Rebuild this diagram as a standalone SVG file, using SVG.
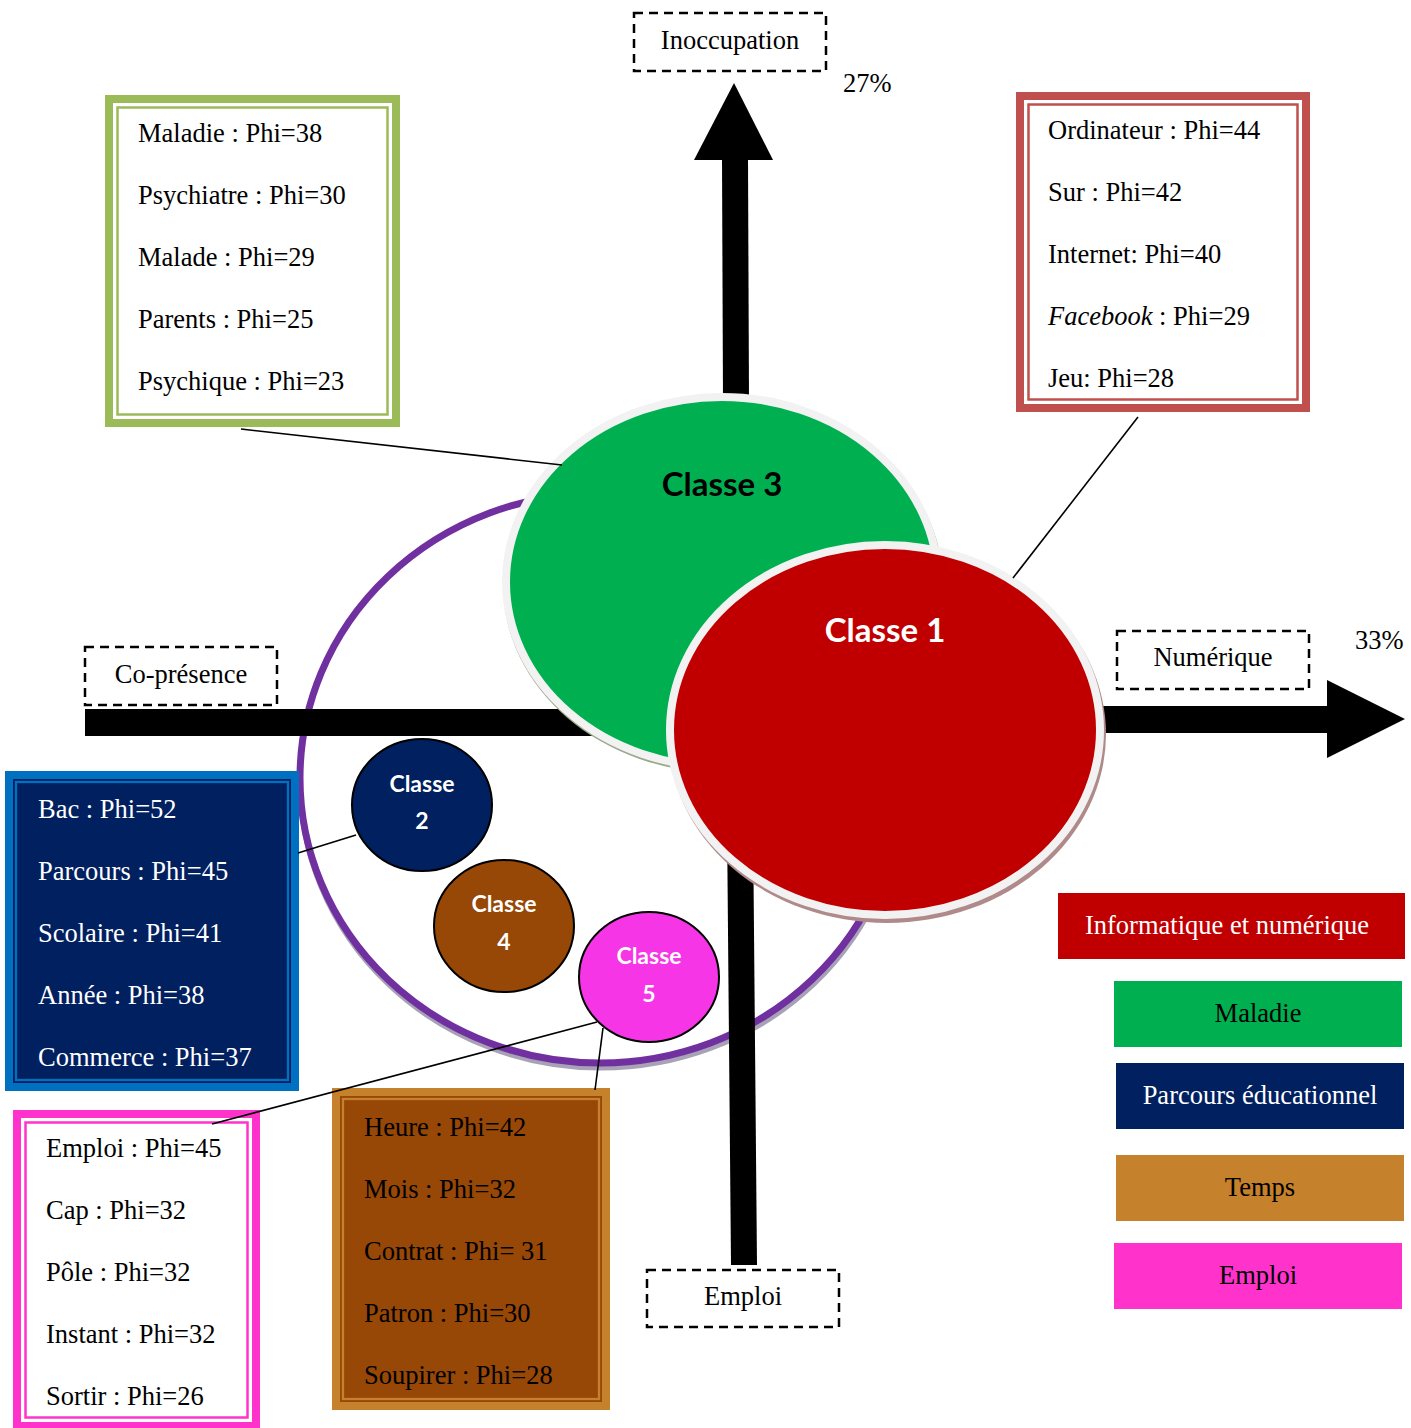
<svg xmlns="http://www.w3.org/2000/svg" width="1411" height="1428" viewBox="0 0 1411 1428">
  <style>
    .t { font-family: "Liberation Serif", "Times New Roman", serif; font-size: 26.5px; }
    .w { fill: #ffffff; }
    .k { fill: #000000; }
    .mid { text-anchor: middle; }
    .cls { font-family: Lato, "Open Sans", sans-serif; font-weight: bold; text-anchor: middle; }
    .dash { fill: #ffffff; stroke: #000000; stroke-width: 2.5; stroke-dasharray: 9 6; }
    .link { stroke: #000000; stroke-width: 1.6; fill: none; }
    .bar { fill: #000000; }
    .small { stroke: #000000; stroke-width: 2; }
  </style>

  <rect width="1411" height="1428" fill="#ffffff"/>

  <!-- large purple ring holding the classes -->
  <g id="ring">
    <ellipse cx="601" cy="782" rx="300" ry="285" fill="none" stroke="#a7a2b5" stroke-width="7"/>
    <ellipse cx="600" cy="778" rx="300" ry="285" fill="#ffffff" stroke="#7030A0" stroke-width="7"/>
  </g>

  <!-- the four axes, drawn beneath the class ellipses -->
  <g id="axes">
    <!-- Inoccupation (up) -->
    <polygon class="bar" points="722,158 748,158 749,400 723,400"/>
    <polygon class="bar" points="694,160 734,83 773,160"/>
    <!-- Emploi (down) -->
    <polygon class="bar" points="727,820 753,820 757,1265 731,1265"/>
    <!-- Co-présence (left) -->
    <rect class="bar" x="85" y="709" width="525" height="27"/>
    <!-- Numérique (right) -->
    <rect class="bar" x="1080" y="706" width="250" height="27"/>
    <polygon class="bar" points="1327,680 1405,719 1327,758"/>
  </g>

  <!-- Classe 3 -->
  <g id="classe3">
    <ellipse cx="723" cy="585" rx="220" ry="188" fill="#9aa88c"/>
    <ellipse cx="722" cy="582" rx="216" ry="185" fill="#00B050" stroke="#F2F2F2" stroke-width="8"/>
    <text class="cls k" x="722" y="496" font-size="33">Classe 3</text>
  </g>

  <!-- Classe 1 -->
  <g id="classe1">
    <ellipse cx="887" cy="734" rx="219" ry="189" fill="#b08a8a"/>
    <ellipse cx="885" cy="730" rx="215" ry="185" fill="#C00000" stroke="#F2F2F2" stroke-width="8"/>
    <text class="cls w" x="885" y="642" font-size="33">Classe 1</text>
  </g>

  <!-- Classe 2 -->
  <g id="classe2">
    <ellipse class="small" cx="422" cy="805" rx="70" ry="66" fill="#002060"/>
    <text class="cls w" x="422" y="792" font-size="23">Classe</text>
    <text class="cls w" x="422" y="829" font-size="23">2</text>
  </g>

  <!-- Classe 4 -->
  <g id="classe4">
    <ellipse class="small" cx="504" cy="926" rx="70" ry="66" fill="#974706"/>
    <text class="cls w" x="504" y="912" font-size="23">Classe</text>
    <text class="cls w" x="504" y="950" font-size="23">4</text>
  </g>

  <!-- Classe 5 -->
  <g id="classe5">
    <ellipse class="small" cx="649" cy="977" rx="70" ry="65" fill="#F535E6"/>
    <text class="cls w" x="649" y="964" font-size="23">Classe</text>
    <text class="cls w" x="649" y="1002" font-size="23">5</text>
  </g>

  <!-- axis labels -->
  <g id="label-inoccupation">
    <rect class="dash" x="634" y="13" width="192" height="58"/>
    <text class="t k mid" x="730" y="49">Inoccupation</text>
    <text class="t k" x="843" y="92">27%</text>
  </g>
  <g id="label-copresence">
    <rect class="dash" x="85" y="647" width="192" height="58"/>
    <text class="t k mid" x="181" y="683">Co-présence</text>
  </g>
  <g id="label-numerique">
    <rect class="dash" x="1117" y="631" width="192" height="58"/>
    <text class="t k mid" x="1213" y="666">Numérique</text>
    <text class="t k" x="1355" y="649">33%</text>
  </g>
  <g id="label-emploi">
    <rect class="dash" x="647" y="1270" width="192" height="57"/>
    <text class="t k mid" x="743" y="1305">Emploi</text>
  </g>

  <!-- word list: Maladie (Classe 3) -->
  <g id="list-maladie">
    <rect x="109" y="99" width="287" height="324" fill="#ffffff" stroke="#9BBB59" stroke-width="8"/>
    <rect x="117.5" y="107.5" width="270" height="307" fill="none" stroke="#9BBB59" stroke-width="2.5"/>
    <text class="t k" x="138" y="142">Maladie : Phi=38</text>
    <text class="t k" x="138" y="204">Psychiatre : Phi=30</text>
    <text class="t k" x="138" y="266">Malade : Phi=29</text>
    <text class="t k" x="138" y="328">Parents : Phi=25</text>
    <text class="t k" x="138" y="390">Psychique : Phi=23</text>
  </g>

  <!-- word list: Informatique (Classe 1) -->
  <g id="list-informatique">
    <rect x="1020" y="96" width="286" height="312" fill="#ffffff" stroke="#C0504D" stroke-width="8"/>
    <rect x="1028.5" y="104.5" width="269" height="295" fill="none" stroke="#C0504D" stroke-width="2.5"/>
    <text class="t k" x="1048" y="139">Ordinateur : Phi=44</text>
    <text class="t k" x="1048" y="201">Sur : Phi=42</text>
    <text class="t k" x="1048" y="263">Internet: Phi=40</text>
    <text class="t k" x="1048" y="325"><tspan font-style="italic">Facebook</tspan> : Phi=29</text>
    <text class="t k" x="1048" y="387">Jeu: Phi=28</text>
  </g>

  <!-- word list: Parcours (Classe 2) -->
  <g id="list-parcours">
    <rect x="9" y="775" width="286" height="312" fill="#002060" stroke="#0070C0" stroke-width="8"/>
    <rect x="16" y="782" width="272" height="298" fill="none" stroke="#0070C0" stroke-width="2.3"/>
    <text class="t w" x="38" y="818">Bac : Phi=52</text>
    <text class="t w" x="38" y="880">Parcours : Phi=45</text>
    <text class="t w" x="38" y="942">Scolaire : Phi=41</text>
    <text class="t w" x="38" y="1004">Année : Phi=38</text>
    <text class="t w" x="38" y="1066">Commerce : Phi=37</text>
  </g>

  <!-- word list: Temps (Classe 4) -->
  <g id="list-temps">
    <rect x="336" y="1092" width="270" height="314" fill="#974706" stroke="#C5812C" stroke-width="8"/>
    <rect x="343" y="1099" width="256" height="300" fill="none" stroke="#C5812C" stroke-width="2.3"/>
    <text class="t k" x="364" y="1136">Heure : Phi=42</text>
    <text class="t k" x="364" y="1198">Mois : Phi=32</text>
    <text class="t k" x="364" y="1260">Contrat : Phi= 31</text>
    <text class="t k" x="364" y="1322">Patron : Phi=30</text>
    <text class="t k" x="364" y="1384">Soupirer : Phi=28</text>
  </g>

  <!-- word list: Emploi (Classe 5) -->
  <g id="list-emploi">
    <rect x="17" y="1114" width="239" height="312" fill="#ffffff" stroke="#FF33CC" stroke-width="8"/>
    <rect x="25.5" y="1122.5" width="222" height="295" fill="none" stroke="#FF33CC" stroke-width="2.5"/>
    <text class="t k" x="46" y="1157">Emploi : Phi=45</text>
    <text class="t k" x="46" y="1219">Cap : Phi=32</text>
    <text class="t k" x="46" y="1281">Pôle : Phi=32</text>
    <text class="t k" x="46" y="1343">Instant : Phi=32</text>
    <text class="t k" x="46" y="1405">Sortir : Phi=26</text>
  </g>

  <!-- leader lines from each word list to its class -->
  <g id="connectors">
    <line class="link" x1="241" y1="429" x2="562" y2="465"/>
    <line class="link" x1="1138" y1="417" x2="1013" y2="578"/>
    <line class="link" x1="298" y1="853" x2="356" y2="835"/>
    <line class="link" x1="212" y1="1124" x2="597" y2="1022"/>
    <line class="link" x1="595" y1="1090" x2="603" y2="1028"/>
  </g>

  <!-- legend -->
  <g id="legend-informatique">
    <rect x="1058" y="893" width="347" height="66" fill="#C00000"/>
    <text class="t w mid" x="1227" y="934">Informatique et numérique</text>
  </g>
  <g id="legend-maladie">
    <rect x="1114" y="981" width="288" height="66" fill="#00B050"/>
    <text class="t k mid" x="1258" y="1022">Maladie</text>
  </g>
  <g id="legend-parcours">
    <rect x="1116" y="1063" width="288" height="66" fill="#002060"/>
    <text class="t w mid" x="1260" y="1104">Parcours éducationnel</text>
  </g>
  <g id="legend-temps">
    <rect x="1116" y="1155" width="288" height="66" fill="#C5812C"/>
    <text class="t k mid" x="1260" y="1196">Temps</text>
  </g>
  <g id="legend-emploi">
    <rect x="1114" y="1243" width="288" height="66" fill="#FF33CC"/>
    <text class="t k mid" x="1258" y="1284">Emploi</text>
  </g>
</svg>
